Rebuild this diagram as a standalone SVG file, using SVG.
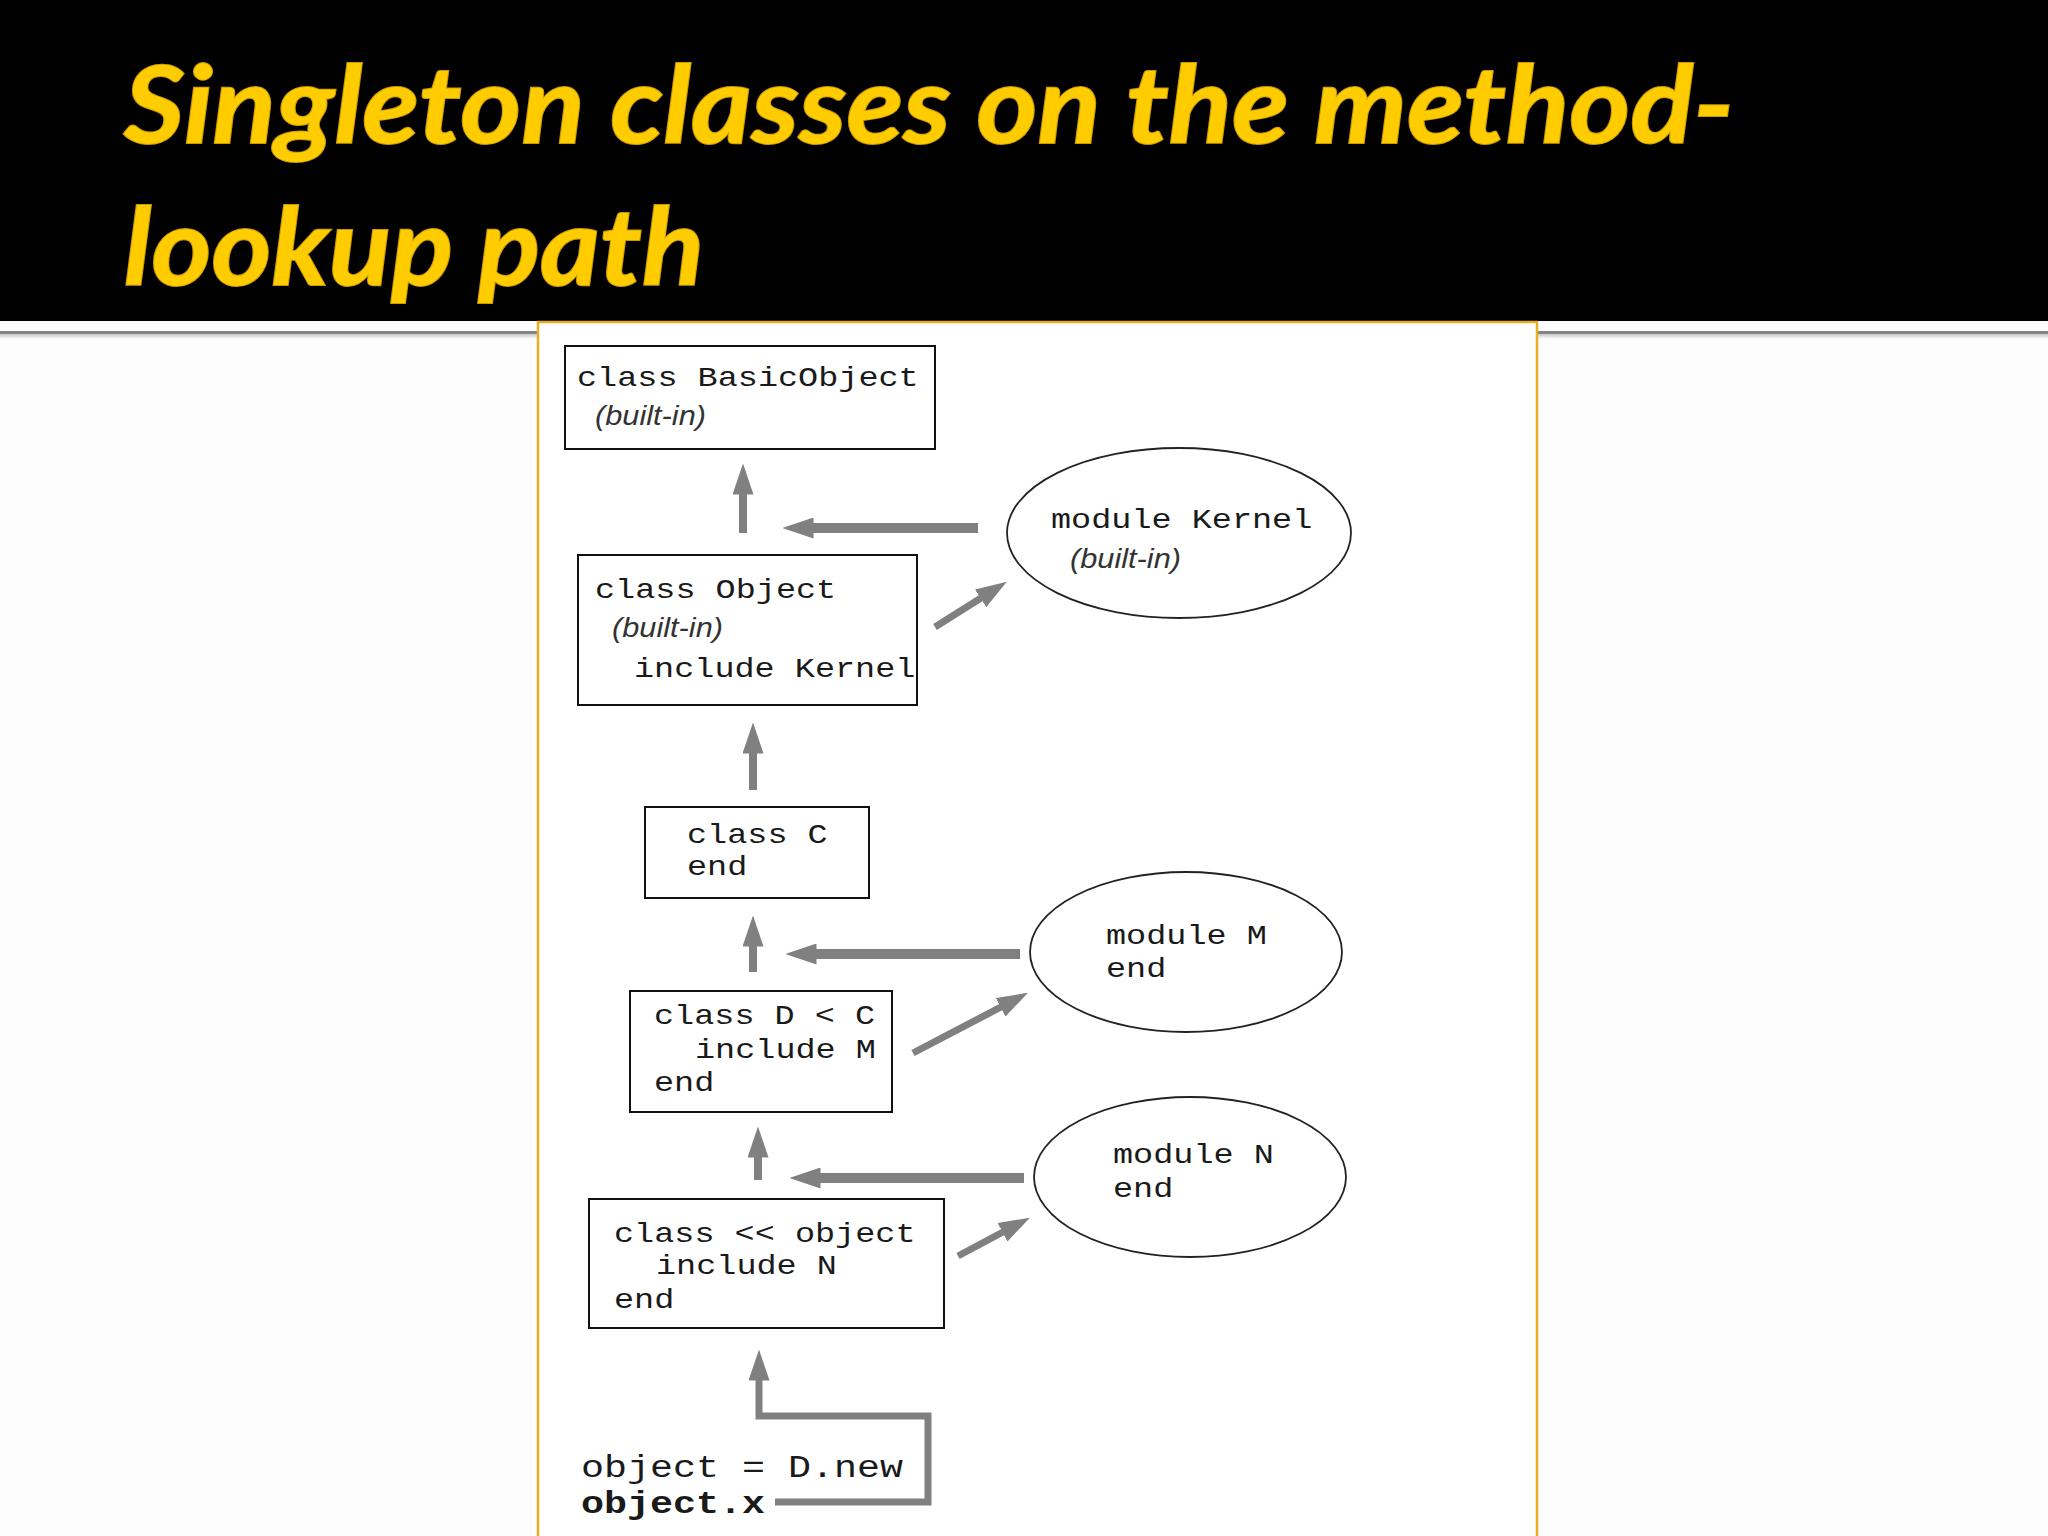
<svg xmlns="http://www.w3.org/2000/svg" width="2048" height="1536" viewBox="0 0 2048 1536">
<defs>
<style>
.title{font-family:Lato,"Open Sans","Liberation Sans",sans-serif;font-weight:bold;font-style:italic;font-size:108px;fill:#FFCC00;stroke:#C99A00;stroke-width:2;paint-order:stroke}
.code{font-family:"Liberation Mono","Courier New",monospace;font-size:28.5px;fill:#1a1a1a}
.code2{font-family:"Liberation Mono","Courier New",monospace;font-size:31px;fill:#1a1a1a}
.it{font-family:"Liberation Sans",Arial,sans-serif;font-style:italic;font-size:28px;fill:#333}
.box{fill:#fff;stroke:#111;stroke-width:2}
.ell{fill:#fff;stroke:#222;stroke-width:1.8}
.arr{stroke:#808080;fill:none;marker-end:url(#ah)}
</style>
<marker id="ah" markerUnits="userSpaceOnUse" markerWidth="31" markerHeight="21" viewBox="0 0 31 21" refX="0.5" refY="10.5" orient="auto">
<path d="M0,0 L31,10.5 L0,21 z" fill="#808080"/>
</marker>
<linearGradient id="shadow" x1="0" y1="0" x2="0" y2="1">
<stop offset="0" stop-color="#c8c8c8"/>
<stop offset="1" stop-color="#fdfdfd"/>
</linearGradient>
</defs>
<rect x="0" y="0" width="2048" height="1536" fill="#fdfdfd"/>
<rect x="0" y="0" width="2048" height="321" fill="#000"/>
<g id="title">
<text class="title" x="124" y="143" textLength="1610" lengthAdjust="spacingAndGlyphs">Singleton classes on the method-</text>
<text class="title" x="124" y="285" textLength="580" lengthAdjust="spacingAndGlyphs">lookup path</text>
</g>
<rect x="0" y="331" width="2048" height="3" fill="#858585"/>
<rect x="0" y="334" width="2048" height="5" fill="url(#shadow)"/>
<rect id="panel" x="538" y="322" width="999" height="1230" fill="#fff" stroke="#E8B020" stroke-width="2.5"/>

<g id="basicobject">
<rect class="box" x="565" y="346" width="370" height="103"/>
<text class="code" x="577" y="386" textLength="341.7" lengthAdjust="spacingAndGlyphs">class BasicObject</text>
<text class="it" x="595" y="425" textLength="111" lengthAdjust="spacingAndGlyphs">(built-in)</text>
</g>
<g id="kernel">
<ellipse class="ell" cx="1179" cy="533" rx="172" ry="85"/>
<text class="code" x="1051" y="528" textLength="261.3" lengthAdjust="spacingAndGlyphs">module Kernel</text>
<text class="it" x="1070" y="568" textLength="111" lengthAdjust="spacingAndGlyphs">(built-in)</text>
</g>
<g id="object">
<rect class="box" x="578" y="555" width="339" height="150"/>
<text class="code" x="595" y="598" textLength="241.2" lengthAdjust="spacingAndGlyphs">class Object</text>
<text class="it" x="612" y="637" textLength="111" lengthAdjust="spacingAndGlyphs">(built-in)</text>
<text class="code" x="634" y="677" textLength="281.4" lengthAdjust="spacingAndGlyphs">include Kernel</text>
</g>
<g id="classC">
<rect class="box" x="645" y="807" width="224" height="91"/>
<text class="code" x="687" y="843" textLength="140.7" lengthAdjust="spacingAndGlyphs">class C</text>
<text class="code" x="687" y="875" textLength="60.3" lengthAdjust="spacingAndGlyphs">end</text>
</g>
<g id="moduleM">
<ellipse class="ell" cx="1186" cy="952" rx="156" ry="80"/>
<text class="code" x="1106" y="944" textLength="160.8" lengthAdjust="spacingAndGlyphs">module M</text>
<text class="code" x="1106" y="977" textLength="60.3" lengthAdjust="spacingAndGlyphs">end</text>
</g>
<g id="classD">
<rect class="box" x="630" y="991" width="262" height="121"/>
<text class="code" x="654" y="1024" textLength="221.1" lengthAdjust="spacingAndGlyphs">class D &lt; C</text>
<text class="code" x="695" y="1058" textLength="180.9" lengthAdjust="spacingAndGlyphs">include M</text>
<text class="code" x="654" y="1091" textLength="60.3" lengthAdjust="spacingAndGlyphs">end</text>
</g>
<g id="moduleN">
<ellipse class="ell" cx="1190" cy="1177" rx="156" ry="80"/>
<text class="code" x="1113" y="1163" textLength="160.8" lengthAdjust="spacingAndGlyphs">module N</text>
<text class="code" x="1113" y="1197" textLength="60.3" lengthAdjust="spacingAndGlyphs">end</text>
</g>
<g id="singleton">
<rect class="box" x="589" y="1199" width="355" height="129"/>
<text class="code" x="614" y="1242" textLength="301.5" lengthAdjust="spacingAndGlyphs">class &lt;&lt; object</text>
<text class="code" x="656" y="1274" textLength="180.9" lengthAdjust="spacingAndGlyphs">include N</text>
<text class="code" x="614" y="1308" textLength="60.3" lengthAdjust="spacingAndGlyphs">end</text>
</g>
<g id="call">
<text class="code2" x="581" y="1477" textLength="322" lengthAdjust="spacingAndGlyphs">object = D.new</text>
<text class="code2" x="581" y="1513" font-weight="bold" textLength="184" lengthAdjust="spacingAndGlyphs">object.x</text>
</g>

<g id="connectors">
<line class="arr" x1="743" y1="533" x2="743" y2="494" stroke-width="8"/>
<line class="arr" x1="978" y1="528" x2="813" y2="528" stroke-width="10"/>
<line class="arr" x1="935" y1="627" x2="981" y2="598" stroke-width="7"/>
<line class="arr" x1="753" y1="790" x2="753" y2="753" stroke-width="8"/>
<line class="arr" x1="753" y1="972" x2="753" y2="946" stroke-width="8"/>
<line class="arr" x1="1020" y1="954" x2="816" y2="954" stroke-width="10"/>
<line class="arr" x1="913" y1="1053" x2="1001" y2="1007" stroke-width="7"/>
<line class="arr" x1="758" y1="1180" x2="758" y2="1157" stroke-width="8"/>
<line class="arr" x1="1024" y1="1178" x2="820" y2="1178" stroke-width="10"/>
<line class="arr" x1="958" y1="1256" x2="1003" y2="1232" stroke-width="7"/>
<path class="arr" d="M775,1502 H928 V1416 H759 V1380" stroke-width="7"/>
</g>
</svg>
